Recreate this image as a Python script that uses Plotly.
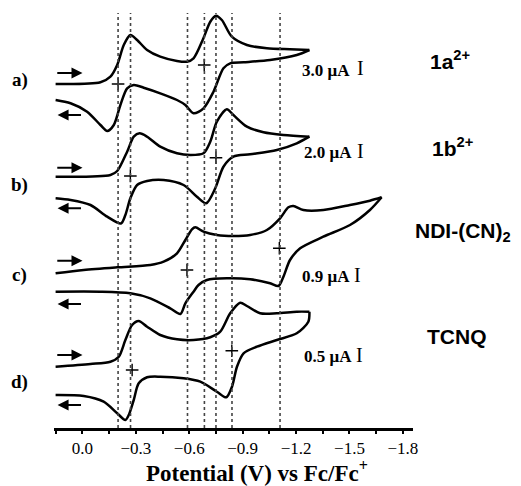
import plotly.graph_objects as go

# ---------------- data (potential in V vs Fc/Fc+, stacked current in a.u.) ----------------
a_fwd_E = [0.151, -0.101, -0.157, -0.195, -0.232, -0.269, -0.307, -0.363, -0.437, -0.531, -0.587, -0.624,
           -0.680, -0.718, -0.750, -0.783, -0.839, -0.924, -1.036, -1.166, -1.275]
a_fwd_I = [344, 345.7, 351.3, 363, 383, 393, 388, 378, 371.3, 367, 366.3, 369.7,
           390, 406.3, 412.3, 408, 391.3, 383, 379.7, 378.7, 378]
a_rev_E = [-1.275, -1.204, -1.054, -0.905, -0.830, -0.792, -0.736, -0.680, -0.624, -0.578, -0.531, -0.437,
           -0.344, -0.288, -0.251, -0.213, -0.176, -0.139, -0.101, -0.026, 0.067, 0.151]
a_rev_I = [378, 373, 368, 365.7, 364.7, 359.7, 336.3, 319.7, 314.7, 323, 328, 334.7,
           340.3, 343, 339.7, 323, 303, 297, 303, 316.3, 324.7, 328]

b_fwd_E = [0.151, -0.157, -0.195, -0.251, -0.288, -0.321, -0.363, -0.437, -0.531, -0.606, -0.680, -0.718,
           -0.755, -0.811, -0.848, -0.924, -1.017, -1.129, -1.275]
b_fwd_I = [251.3, 253, 257, 276.3, 291.3, 294.7, 291.3, 281.3, 274.7, 273, 274.7, 286.3,
           306.3, 318.7, 313, 301.3, 295.7, 293, 291.3]
b_rev_E = [-1.275, -1.204, -1.092, -0.942, -0.848, -0.792, -0.746, -0.695, -0.643, -0.568, -0.456, -0.363,
           -0.307, -0.269, -0.241, -0.216, -0.139, -0.045, 0.067, 0.151]
b_rev_I = [291.3, 284.7, 278, 273.7, 271.3, 261.3, 239.7, 224.7, 231.3, 243, 248, 247,
           243, 229.7, 213, 204.5, 211.3, 223, 228, 229.7]

c_fwd_E = [0.151, -0.007, -0.195, -0.381, -0.456, -0.531, -0.578, -0.615, -0.634, -0.680, -0.755, -0.848,
           -0.942, -1.036, -1.110, -1.157, -1.185, -1.241, -1.353, -1.503, -1.615, -1.681]
c_fwd_I = [154.7, 158, 160.7, 163, 166.3, 174.7, 188, 198.7, 200.7, 196.3, 193, 192,
           193, 198, 209.7, 220.7, 222, 218, 218, 223, 227.3, 230.7]
c_rev_E = [-1.681, -1.615, -1.503, -1.353, -1.223, -1.166, -1.129, -1.101, -1.054, -0.942, -0.811, -0.699,
           -0.652, -0.624, -0.578, -0.550, -0.493, -0.381, -0.269, -0.101, 0.151]
c_rev_I = [230.7, 218, 203, 191.3, 179.7, 168, 151.3, 142, 144.7, 148.7, 149.7, 148,
           143, 136.3, 124.7, 114, 119.7, 129.7, 134.7, 136.3, 136.3]

d_fwd_E = [0.151, -0.045, -0.157, -0.204, -0.241, -0.279, -0.316, -0.363, -0.437, -0.531, -0.624, -0.718,
           -0.774, -0.830, -0.886, -0.924, -0.998, -1.092, -1.204, -1.275]
d_fwd_I = [61.3, 64, 66.3, 71.3, 88, 103, 107, 101.3, 93, 88.7, 88, 90.7,
           96.3, 114.7, 125.3, 122, 114.7, 114.7, 116.3, 116.3]
d_rev_E = [-1.275, -1.269, -1.204, -1.092, -0.980, -0.905, -0.868, -0.840, -0.808, -0.755, -0.662, -0.568,
           -0.437, -0.363, -0.316, -0.288, -0.260, -0.241, -0.195, -0.119, -0.007, 0.151]
d_rev_I = [116.3, 106.3, 94.7, 88, 81.3, 74.7, 61.3, 41.3, 30.7, 36.3, 46.3, 49.7,
           51.3, 50.7, 44.7, 28, 13, 8, 14.7, 26.3, 32, 33]

# half-wave potentials (+ markers) for each trace
half_E = [-0.200, -0.684, -0.269, -0.750, -0.587, -1.106, -0.279, -0.839]
half_I = [344, 363, 252, 270.3, 158, 179.7, 58, 77.3]

# dotted guide lines (V)
guide_E = [-0.20, -0.27, -0.59, -0.685, -0.75, -0.84, -1.11]

panel_labels = ["a)", "b)", "c)", "d)"]
compound_labels = ["1a<sup>2+</sup>", "1b<sup>2+</sup>", "NDI-(CN)<sub>2</sub>", "TCNQ"]
scale_labels = ["3.0 \u03bcA", "2.0 \u03bcA", "0.9 \u03bcA", "0.5 \u03bcA"]

tick_vals = [0.0, -0.3, -0.6, -0.9, -1.2, -1.5, -1.8]

# scan-direction arrows (current level of each arrow)
arrow_fwd_I = [355, 260.3, 167.3, 73]
arrow_rev_I = [313, 219.7, 124, 23]

# ---------------- figure ----------------
fig = go.Figure()
curves = [(a_fwd_E, a_fwd_I), (a_rev_E, a_rev_I), (b_fwd_E, b_fwd_I), (b_rev_E, b_rev_I),
          (c_fwd_E, c_fwd_I), (c_rev_E, c_rev_I), (d_fwd_E, d_fwd_I), (d_rev_E, d_rev_I)]
for E, I in curves:
    fig.add_trace(go.Scatter(x=E, y=I, mode="lines",
                             line=dict(color="black", width=2.5, shape="spline", smoothing=0.8),
                             hoverinfo="skip"))

fig.add_trace(go.Scatter(x=half_E, y=half_I, mode="markers",
                         marker=dict(symbol="cross-thin", size=9, line=dict(color="black", width=1.4)),
                         hoverinfo="skip"))

for gE in guide_E:
    fig.add_shape(type="line", xref="x", yref="y", x0=gE, x1=gE, y0=0, y1=415,
                  line=dict(color="#444", width=1.6, dash="dot"))

for yf, yr in zip(arrow_fwd_I, arrow_rev_I):
    fig.add_annotation(x=0.0, y=yf, ax=0.15, ay=yf, xref="x", yref="y", axref="x", ayref="y",
                       text="", showarrow=True, arrowhead=2, arrowsize=1.1, arrowwidth=2, arrowcolor="black")
    fig.add_annotation(x=0.14, y=yr, ax=0.0, ay=yr, xref="x", yref="y", axref="x", ayref="y",
                       text="", showarrow=True, arrowhead=2, arrowsize=1.1, arrowwidth=2, arrowcolor="black")

serif = "Liberation Serif"
sans = "Liberation Sans"

panel_y = [0.813, 0.568, 0.357, 0.107]
for lab, py in zip(panel_labels, panel_y):
    fig.add_annotation(x=-0.095, y=py, xref="paper", yref="paper", text="<b>%s</b>" % lab,
                       xanchor="center", yanchor="middle",
                       showarrow=False, font=dict(family=serif, size=19, color="black"))

comp_pos = [(1.042, 0.86), (1.047, 0.657), (1.0, 0.458), (1.033, 0.213)]
for lab, (px, py) in zip(compound_labels, comp_pos):
    fig.add_annotation(x=px, y=py, xref="paper", yref="paper", text="<b>%s</b>" % lab,
                       xanchor="left", yanchor="middle", showarrow=False,
                       font=dict(family=sans, size=21, color="black"))

scale_pos = [(0.685, 0.836), (0.691, 0.643), (0.685, 0.353), (0.691, 0.166)]
bar_x = [0.855, 0.855, 0.845, 0.85]
for lab, (px, py), bx in zip(scale_labels, scale_pos, bar_x):
    fig.add_annotation(x=px, y=py, xref="paper", yref="paper", text="<b>%s</b>" % lab,
                       xanchor="left", yanchor="middle", showarrow=False,
                       font=dict(family=serif, size=17, color="black"))
    fig.add_annotation(x=bx, y=py + 0.004, xref="paper", yref="paper", text="I",
                       xanchor="center", yanchor="middle", showarrow=False,
                       font=dict(family=serif, size=20, color="black"))

fig.add_annotation(x=0.566, y=-0.101, xref="paper", yref="paper",
                   text="<b>Potential (V) vs Fc/Fc<sup>+</sup></b>", showarrow=False,
                   xanchor="center", yanchor="middle", borderpad=0,
                   font=dict(family=serif, size=23, color="black"))

fig.update_xaxes(range=[0.16, -1.857], tickvals=tick_vals, tickformat=".1f",
                 showline=True, linewidth=2.5, linecolor="black", showgrid=False, zeroline=False,
                 ticks="outside", ticklen=3, tickwidth=2, tickcolor="black",
                 minor=dict(dtick=0.15, tick0=0, ticks="outside", ticklen=3, tickwidth=2, tickcolor="black"),
                 tickfont=dict(family=serif, size=17, color="black"))
fig.update_yaxes(range=[0, 428], visible=False)

fig.update_layout(width=521, height=486, margin=dict(l=54, r=108, t=0, b=58),
                  paper_bgcolor="white", plot_bgcolor="white", showlegend=False)

fig.write_html("out.html", config={"displayModeBar": False},
               post_script="document.body.style.margin='0px';")
